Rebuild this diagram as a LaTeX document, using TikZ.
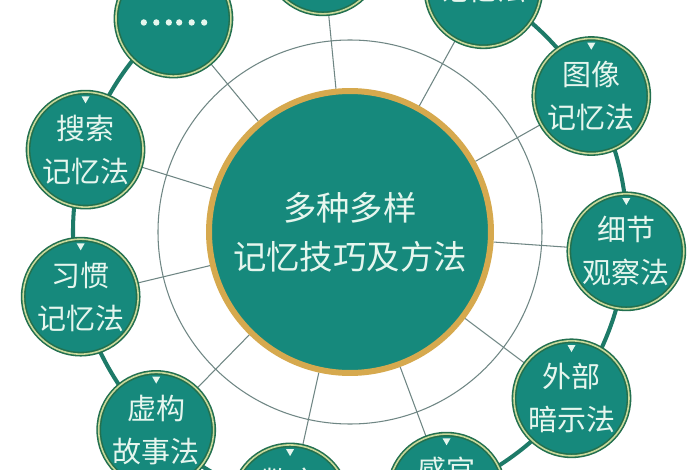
\documentclass[tikz,border=0pt]{standalone}
\usepackage{fontspec}
\newfontfamily\cjk{Noto Sans CJK SC}
\newfontfamily\cjkdots[FakeBold=5]{Noto Sans CJK SC}
\usepackage{tikz}
\usetikzlibrary{backgrounds}
\definecolor{tealfill}{HTML}{16897C}
\definecolor{darkrim}{HTML}{22704F}
\definecolor{palerim}{HTML}{C9D89A}
\definecolor{goldrim}{HTML}{D6A94E}
\definecolor{spokegray}{HTML}{6F8684}
\definecolor{mint}{HTML}{E6F6EE}
\definecolor{ringteal}{HTML}{1D7A68}

\begin{document}
\begin{tikzpicture}[x=0.02cm,y=0.02cm,
 hub/.style={circle, fill=tealfill, draw=goldrim, line width=3.4pt,
 minimum size=5.64cm, inner sep=0pt, text=mint, align=center,
 font=\cjk\fontsize{19}{27.9}\selectfont},
 method/.style={circle, fill=tealfill, draw=darkrim, line width=0.9pt,
 double=palerim, double distance=0.9pt, minimum size=2.3cm, inner sep=0pt,
 text=mint, align=center, font=\cjk\fontsize{16.5}{24.5}\selectfont},
 spoke/.style={draw=spokegray, line width=0.6pt},
 ringline/.style={draw=ringteal, line width=2.3pt}]
\useasboundingbox (-350,-238) rectangle (350,232);

\node[hub] (center) at (0,0) {多种多样\\记忆技巧及方法};

\node[method] (xijie) at (-4.0:277) {细节\\观察法};
\node[method] (tuxiang) at (29.4:277) {图像\\记忆法};
\node[method] (lianxiang) at (61.2:277) {记忆法};
\node[method] (dingbu) at (95.6:277) {};
\node[method] (more) at (129.6:277) {\cjkdots\fontsize{19}{19}\selectfont\raisebox{-0.24cm}{……}};
\node[method] (sousuo) at (162.7:277) {搜索\\记忆法};
\node[method] (xiguan) at (193.5:277) {习惯\\记忆法};
\node[method] (xugou) at (225.6:277) {虚构\\故事法};
\node[method] (shuzi) at (257.5:277) {数字\\\phantom{记忆法}};
\node[method] (ganguan) at (290.4:277) {感官\\\phantom{记忆法}};
\node[method] (waibu) at (323.1:277) {外部\\暗示法};

\foreach \n in {xijie,tuxiang,sousuo,xiguan,xugou,shuzi,ganguan,waibu}
 \fill[mint] ([shift={(-4,-5)}]\n.north) -- ++(8,0) -- ++(-4,-7) -- cycle;

\begin{scope}[on background layer]
\fill[white] (-350,-238) rectangle (350,232);
\draw[ringline] (0,0) circle (277);
\draw[spoke] (0,0) circle (192);
\foreach \n in {xijie,tuxiang,lianxiang,dingbu,more,sousuo,xiguan,xugou,shuzi,ganguan,waibu}
 \draw[spoke] (center) -- (\n);
\end{scope}
\end{tikzpicture}
\end{document}
